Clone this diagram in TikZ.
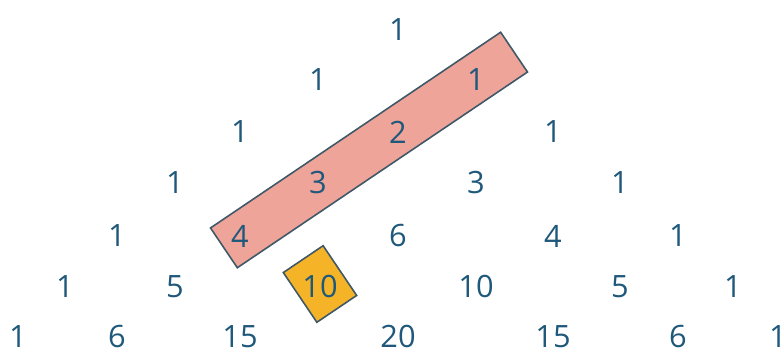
\documentclass[tikz,border=0pt]{standalone}
\usepackage{fontspec}
\setmainfont{Open Sans}
\usetikzlibrary{positioning}

\definecolor{angka}{RGB}{31,88,122}
\definecolor{garis}{RGB}{62,88,104}
\definecolor{merah}{RGB}{239,164,154}
\definecolor{kuning}{RGB}{245,180,40}

\begin{document}
\begin{tikzpicture}[font=\fontsize{17.5pt}{20pt}\selectfont,
      num/.style={text=angka, inner sep=0pt},
      stick/.style={draw=garis, fill=merah, line width=0.9pt, rotate=34, minimum width=7.0cm, minimum height=0.96cm},
      kotak/.style={draw=garis, fill=kuning, line width=0.9pt, rotate=34, minimum width=0.96cm, minimum height=1.2cm}]
      \useasboundingbox (0,0) rectangle (15.66,7.08);

      % sorotan: tongkat hoki dan jumlahnya
      \node[stick] (hs) at (7.38,4.08) {};
      \node[kotak] (sum) at (6.40,1.40) {};

      % baris 0
      \node[num] (n00) at (7.96,6.48) {1};
      % baris 1
      \node[num] (n10) at (6.36,5.48) {1};
      \node[num] (n11) at (9.52,5.48) {1};
      % baris 2
      \node[num] (n20) at (4.80,4.44) {1};
      \node[num] (n21) at (7.96,4.44) {2};
      \node[num] (n22) at (11.06,4.44) {1};
      % baris 3
      \node[num] (n30) at (3.50,3.42) {1};
      \node[num] (n31) at (6.36,3.42) {3};
      \node[num] (n32) at (9.52,3.42) {3};
      \node[num] (n33) at (12.40,3.42) {1};
      % baris 4
      \node[num] (n40) at (2.34,2.36) {1};
      \node[num] (n41) at (4.80,2.36) {4};
      \node[num] (n42) at (7.96,2.36) {6};
      \node[num] (n43) at (11.06,2.36) {4};
      \node[num] (n44) at (13.56,2.36) {1};
      % baris 5
      \node[num] (n50) at (1.30,1.34) {1};
      \node[num] (n51) at (3.50,1.34) {5};
      \node[num] (n52) at (6.40,1.34) {10};
      \node[num] (n53) at (9.52,1.34) {10};
      \node[num] (n54) at (12.40,1.34) {5};
      \node[num] (n55) at (14.66,1.34) {1};
      % baris 6
      \node[num] (n60) at (0.36,0.34) {1};
      \node[num] (n61) at (2.34,0.34) {6};
      \node[num] (n62) at (4.80,0.34) {15};
      \node[num] (n63) at (7.96,0.34) {20};
      \node[num] (n64) at (11.06,0.34) {15};
      \node[num] (n65) at (13.56,0.34) {6};
      \node[num] (n66) at (15.56,0.34) {1};
    \end{tikzpicture}
\end{document}
